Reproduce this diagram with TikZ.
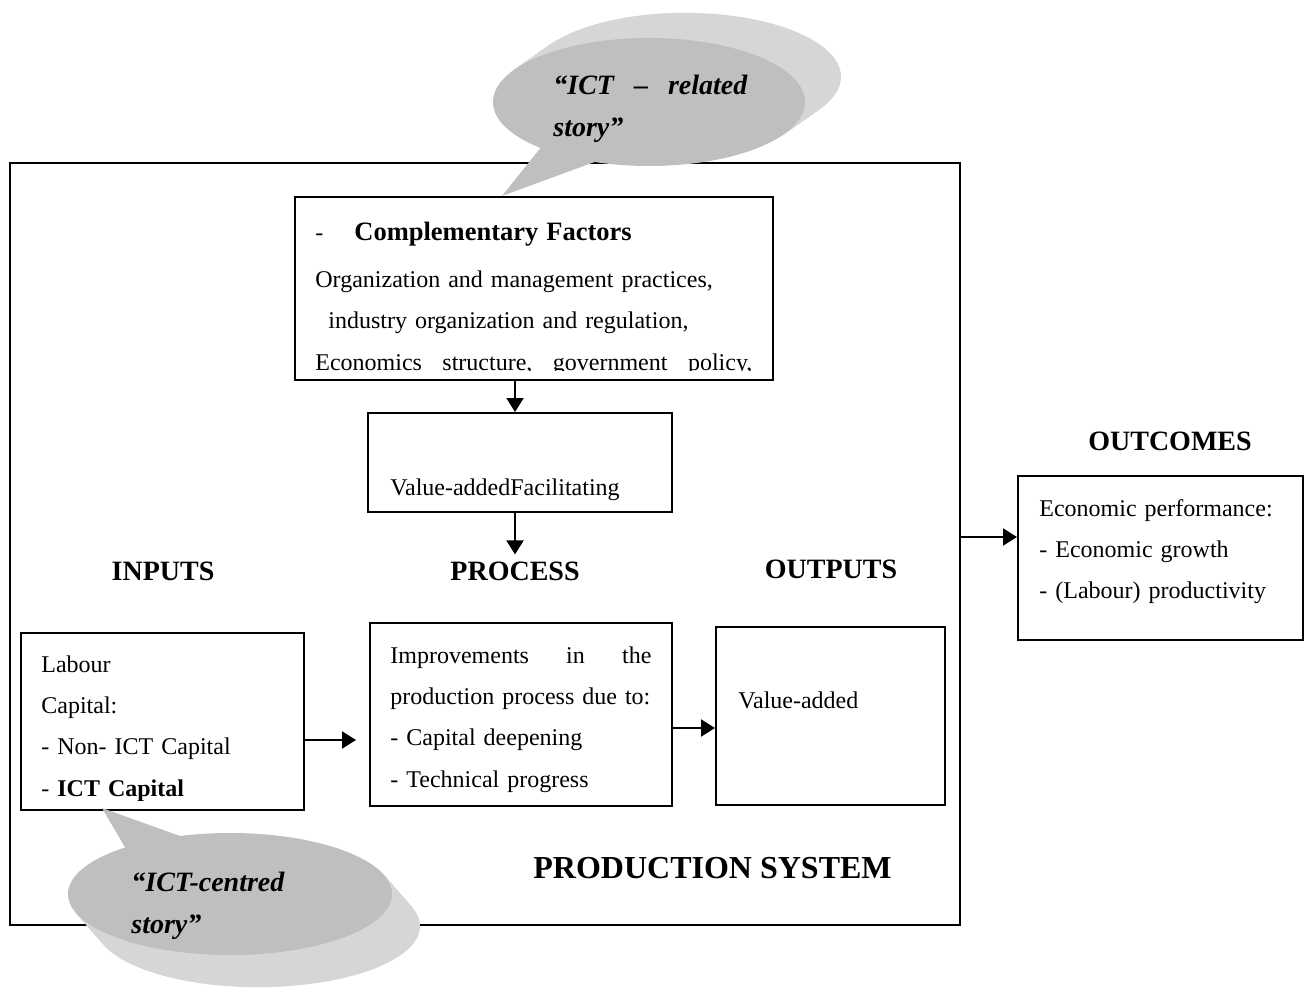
\documentclass[tikz,border=0pt]{standalone}
\usepackage{fontspec}
\setmainfont{Liberation Serif}
\usetikzlibrary{arrows.meta, fit}

\definecolor{bubblegray}{RGB}{191,191,191}
\definecolor{bubbleside}{RGB}{214,214,214}

\tikzset{
  box/.style={draw, line width=1pt, inner sep=0pt},
  txt/.style={inner sep=0pt, anchor=base west, align=left, font=\fontsize{12}{20.7}\selectfont},
  head/.style={anchor=base, font=\fontsize{14}{16}\selectfont\bfseries},
  story/.style={inner sep=0pt, anchor=base west, align=left, font=\fontsize{14}{21}\selectfont\bfseries\itshape},
  arr/.style={->, line width=1pt},
}

\begin{document}
\begin{tikzpicture}[>={Triangle[length=7pt,width=8.5pt]}, x=0.5pt, y=-0.5pt]
    \useasboundingbox (0,0) rectangle (1309,989);
    % frames
    \node[box, fit={(10,163) (960,925)}] (sys) {};
    \node[box, fit={(295,197) (773,380)}] (comp) {};
    \node[box, fit={(368,413) (672,512)}] (val) {};
    \node[box, fit={(21,633) (304,810)}] (inbox) {};
    \node[box, fit={(370,623) (672,806)}] (procbox) {};
    \node[box, fit={(716,627) (945,805)}] (outbox) {};
    \node[box, fit={(1018,476) (1303,640)}] (resbox) {};
    % box texts
    \begin{scope}
        \clip (295,197) rectangle (773,370);
        \node[txt, text width=218.5pt] (comptxt) at (315,241) {\makebox[19.5pt][l]{-}{\fontsize{13.25}{16}\selectfont\bfseries Complementary Factors}\\[2.5pt]
            Organization and management practices,\\
            \hspace*{6.5pt}industry organization and regulation,\\
            Economics\hfill structure,\hfill government\hfill policy,};
    \end{scope}
    \node[txt] (valtxt) at (390,495) {Value-addedFacilitating};
    \begin{scope}
        \clip (21,633) rectangle (304,800);
        \node[txt, text width=120pt] (intxt) at (41,672) {Labour\\Capital:\\- Non- ICT Capital\\- \textbf{ICT Capital}};
    \end{scope}
    \node[txt, text width=130.5pt] (proctxt) at (390,663) {Improvements\hfill in\hfill the\\production process due to:\\- Capital deepening\\- Technical progress};
    \node[txt] (outtxt) at (738,708) {Value-added};
    \node[txt, text width=125pt] (restxt) at (1039,516) {Economic performance:\\- Economic growth\\- (Labour) productivity};
    % headings
    \node[head] (inlbl) at (163,580) {INPUTS};
    \node[head] (proclbl) at (515,580) {PROCESS};
    \node[head] (outlbl) at (831,578) {OUTPUTS};
    \node[head] (reslbl) at (1170,450) {OUTCOMES};
    \node[head, anchor=base west, inner sep=0pt, font=\fontsize{16}{18}\selectfont\bfseries] (syslbl) at (533,878) {PRODUCTION SYSTEM};
    % arrows
    \coordinate (inarr) at (0,740);
    \coordinate (outarr) at (0,728);
    \coordinate (resarr) at (0,537);
    \draw[arr] (comp.south -| proclbl) -- (val.north -| proclbl);
    \draw[arr] (val.south -| proclbl) -- (proclbl.north);
    \draw[arr, shorten >=6.5pt] (inbox.east |- inarr) -- (procbox.west |- inarr);
    \draw[arr] (procbox.east |- outarr) -- (outbox.west |- outarr);
    \draw[arr] (sys.east |- resarr) -- (resbox.west |- resarr);
    % callout on top
    \foreach \k in {1,...,36}
        \fill[bubbleside] ({649+\k},{102-0.7*\k}) ellipse [x radius=78pt, y radius=32pt];
    \fill[bubblegray] (649,102) ellipse [x radius=78pt, y radius=32pt];
    \fill[bubblegray] (542,146) -- (502,196) -- (600,160) -- cycle;
    \node[story, text width=97pt] (toptxt) at (553,95) {“ICT\hfill–\hfill related\\story”};
    % callout at the bottom
    \foreach \k in {1,...,28}
        \fill[bubbleside] ({230+\k},{894+1.15*\k}) ellipse [x radius=81pt, y radius=30.5pt];
    \fill[bubblegray] (230,894) ellipse [x radius=81pt, y radius=30.5pt];
    \fill[bubblegray] (136,866) -- (102,808) -- (205,845) -- cycle;
    \node[story, text width=80pt] (bottxt) at (131,891) {“ICT-centred\\story”};
\end{tikzpicture}
\end{document}
